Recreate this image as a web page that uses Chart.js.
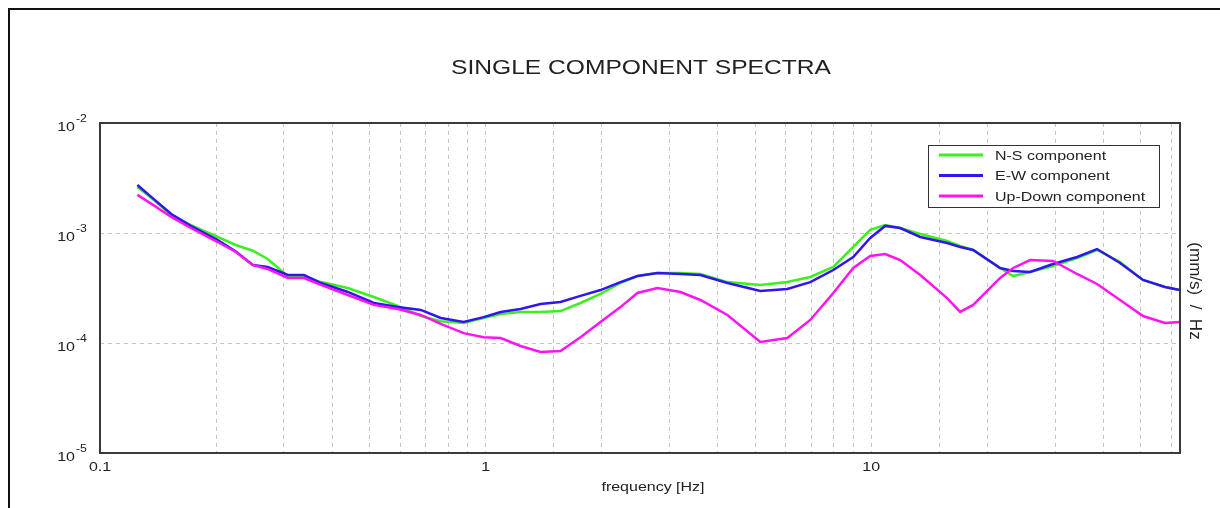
<!DOCTYPE html>
<html>
<head>
<meta charset="utf-8">
<script src="https://cdn.jsdelivr.net/npm/chart.js@4.4.1/dist/chart.umd.min.js"></script>
<style>
body { margin: 0; background: #fff; }
#frame { position: absolute; left: 8px; top: 8px; width: 1212px; height: 500px; border-top: 2px solid #111; border-left: 2px solid #111; }
#spectra { position: absolute; left: 0; top: 0; }
</style>
</head>
<body>
<div id="frame"></div>
<canvas id="spectra" width="1220" height="508"></canvas>
<script>
// frequency samples [Hz]
const frequency = [0.125, 0.136, 0.153, 0.172, 0.202, 0.225, 0.249, 0.272, 0.307, 0.338,
    0.374, 0.439, 0.513, 0.592, 0.679, 0.765, 0.877, 0.988, 1.094, 1.232,
    1.388, 1.564, 1.762, 1.986, 2.237, 2.476, 2.790, 3.200, 3.606, 4.237,
    5.157, 6.059, 6.950, 7.973, 8.982, 9.94, 10.87, 11.89, 13.40, 15.73,
    17.01, 18.38, 21.59, 23.34, 25.82, 29.61, 34.18, 38.51, 44.18, 50.66,
    57.77, 63.18];

// spectral amplitude [(mm/s)/Hz]
const nsComponent = [2.62e-3, 2.08e-3, 1.46e-3, 1.18e-3, 9.20e-4, 7.78e-4, 6.90e-4, 5.80e-4, 4.06e-4, 4.06e-4,
    3.58e-4, 3.16e-4, 2.62e-4, 2.17e-4, 1.76e-4, 1.58e-4, 1.52e-4, 1.69e-4, 1.83e-4, 1.91e-4,
    1.91e-4, 1.95e-4, 2.31e-4, 2.79e-4, 3.51e-4, 4.06e-4, 4.33e-4, 4.33e-4, 4.24e-4, 3.58e-4,
    3.37e-4, 3.58e-4, 3.98e-4, 4.91e-4, 7.46e-4, 1.07e-3, 1.18e-3, 1.11e-3, 9.79e-4, 8.46e-4,
    7.62e-4, 7.01e-4, 4.81e-4, 4.06e-4, 4.42e-4, 5.01e-4, 5.93e-4, 7.01e-4, 5.45e-4, 3.74e-4,
    3.23e-4, 3.03e-4];
const ewComponent = [2.73e-3, 2.12e-3, 1.49e-3, 1.16e-3, 8.64e-4, 6.80e-4, 5.12e-4, 4.91e-4, 4.15e-4, 4.15e-4,
    3.51e-4, 2.91e-4, 2.31e-4, 2.12e-4, 2.00e-4, 1.69e-4, 1.55e-4, 1.72e-4, 1.91e-4, 2.04e-4,
    2.26e-4, 2.36e-4, 2.68e-4, 3.03e-4, 3.58e-4, 4.06e-4, 4.33e-4, 4.24e-4, 4.15e-4, 3.51e-4,
    2.97e-4, 3.10e-4, 3.58e-4, 4.61e-4, 6.05e-4, 9.01e-4, 1.16e-3, 1.11e-3, 9.20e-4, 8.11e-4,
    7.46e-4, 7.01e-4, 4.81e-4, 4.51e-4, 4.42e-4, 5.23e-4, 6.05e-4, 7.15e-4, 5.34e-4, 3.74e-4,
    3.23e-4, 3.03e-4];
const udComponent = [2.22e-3, 1.84e-3, 1.40e-3, 1.11e-3, 8.28e-4, 6.72e-4, 5.12e-4, 4.71e-4, 3.90e-4, 3.90e-4,
    3.37e-4, 2.73e-4, 2.22e-4, 2.04e-4, 1.80e-4, 1.49e-4, 1.23e-4, 1.13e-4, 1.11e-4, 9.39e-5,
    8.28e-5, 8.46e-5, 1.13e-4, 1.55e-4, 2.12e-4, 2.85e-4, 3.16e-4, 2.91e-4, 2.46e-4, 1.80e-4,
    1.02e-4, 1.11e-4, 1.62e-4, 2.85e-4, 4.81e-4, 6.18e-4, 6.44e-4, 5.68e-4, 4.15e-4, 2.56e-4,
    1.92e-4, 2.22e-4, 3.90e-4, 4.81e-4, 5.68e-4, 5.57e-4, 4.24e-4, 3.44e-4, 2.46e-4, 1.76e-4,
    1.52e-4, 1.55e-4];

const seriesNames = ['N-S component', 'E-W component', 'Up-Down component'];
const seriesColors = ['#3cf01e', '#3214f0', '#ff14f0'];
const xTickLabels = [0.1, 1, 10];
const yTickExponents = [-2, -3, -4, -5];

const fontFamily = "'Liberation Sans', Arial, sans-serif";
const gridColor = '#c4c4c4';
const textColor = '#222';
const stretch = 1.23;   // the source text is drawn wide

function points(values)
{
    return values.map((v, i) => ({x: frequency[i], y: v}));
}

function isDecade(v)
{
    let e = Math.log10(v);
    return Math.abs(e - Math.round(e)) < 1e-6;
}

function drawText(ctx, text, x, y, size, align)
{
    ctx.save();
    ctx.font = size + 'px ' + fontFamily;
    ctx.fillStyle = textColor;
    ctx.textAlign = align;
    ctx.textBaseline = 'middle';
    ctx.translate(x, y);
    ctx.scale(stretch, 1);
    ctx.fillText(text, 0, 0);
    ctx.restore();
}

// frame, title, tick labels, legend box and axis titles
const overlay = {
    id: 'overlay',
    afterDraw(chart) {
        const ctx = chart.ctx;
        const area = chart.chartArea;
        const xScale = chart.scales.x;
        const yScale = chart.scales.y;
        ctx.save();

        ctx.strokeStyle = '#3a3a3a';
        ctx.lineWidth = 2;
        ctx.strokeRect(area.left, area.top, area.right - area.left, area.bottom - area.top);

        drawText(ctx, 'SINGLE COMPONENT SPECTRA', 641, 68, 20, 'center');

        yTickExponents.forEach(exp => {
            let y = yScale.getPixelForValue(Math.pow(10, exp));
            drawText(ctx, '10', 75, y + 4, 13, 'right');
            drawText(ctx, String(exp), 76, y - 4, 10, 'left');
        });

        xTickLabels.forEach(t => {
            drawText(ctx, String(t), xScale.getPixelForValue(t), 467, 13, 'center');
        });
        drawText(ctx, 'frequency [Hz]', 653, 487, 13, 'center');

        // legend
        let lx = area.right - 252, ly = area.top + 22;
        ctx.fillStyle = '#fff';
        ctx.fillRect(lx, ly, 231, 62);
        ctx.strokeStyle = '#333';
        ctx.lineWidth = 1;
        ctx.strokeRect(lx + 0.5, ly + 0.5, 231, 62);
        chart.data.datasets.forEach((ds, i) => {
            let rowY = ly + 10 + i * 20.5;
            ctx.strokeStyle = ds.borderColor;
            ctx.lineWidth = 3;
            ctx.beginPath();
            ctx.moveTo(lx + 11, rowY);
            ctx.lineTo(lx + 55, rowY);
            ctx.stroke();
            drawText(ctx, ds.label, lx + 67, rowY + 1, 13, 'left');
        });

        // right side unit label, reads top to bottom
        ctx.translate(1195, 291);
        ctx.rotate(Math.PI / 2);
        ctx.font = '17px ' + fontFamily;
        ctx.fillStyle = textColor;
        ctx.textAlign = 'center';
        ctx.textBaseline = 'middle';
        ctx.fillText('(mm/s)  /  Hz', 0, 0);
        ctx.restore();
    }
};

const componentValues = [nsComponent, ewComponent, udComponent];

new Chart(document.getElementById('spectra'), {
    type: 'line',
    data: {
        datasets: componentValues.map((values, i) => ({
            label: seriesNames[i],
            data: points(values),
            borderColor: seriesColors[i],
            borderWidth: 2.5,
            pointRadius: 0,
            tension: 0,
            order: 3 - i
        }))
    },
    options: {
        responsive: false,
        animation: false,
        layout: { padding: { top: 123, right: 40, bottom: 0, left: 0 } },
        plugins: {
            legend: { display: false },
            tooltip: { enabled: false },
            title: { display: false }
        },
        scales: {
            x: {
                type: 'logarithmic',
                min: 0.1,
                max: 63.2,
                afterFit: s => { s.height = 55; },
                border: { display: false, dash: [4, 4] },
                grid: { color: gridColor, drawTicks: false, lineWidth: 1 },
                ticks: { display: false, autoSkip: false }
            },
            y: {
                type: 'logarithmic',
                min: 1e-5,
                max: 1e-2,
                afterFit: s => { s.width = 100; },
                border: { display: false, dash: [4, 4] },
                grid: {
                    color: ctx => isDecade(ctx.tick.value) ? gridColor : 'rgba(0,0,0,0)',
                    drawTicks: false,
                    lineWidth: 1
                },
                ticks: { display: false }
            }
        }
    },
    plugins: [overlay]
});
</script>
</body>
</html>
